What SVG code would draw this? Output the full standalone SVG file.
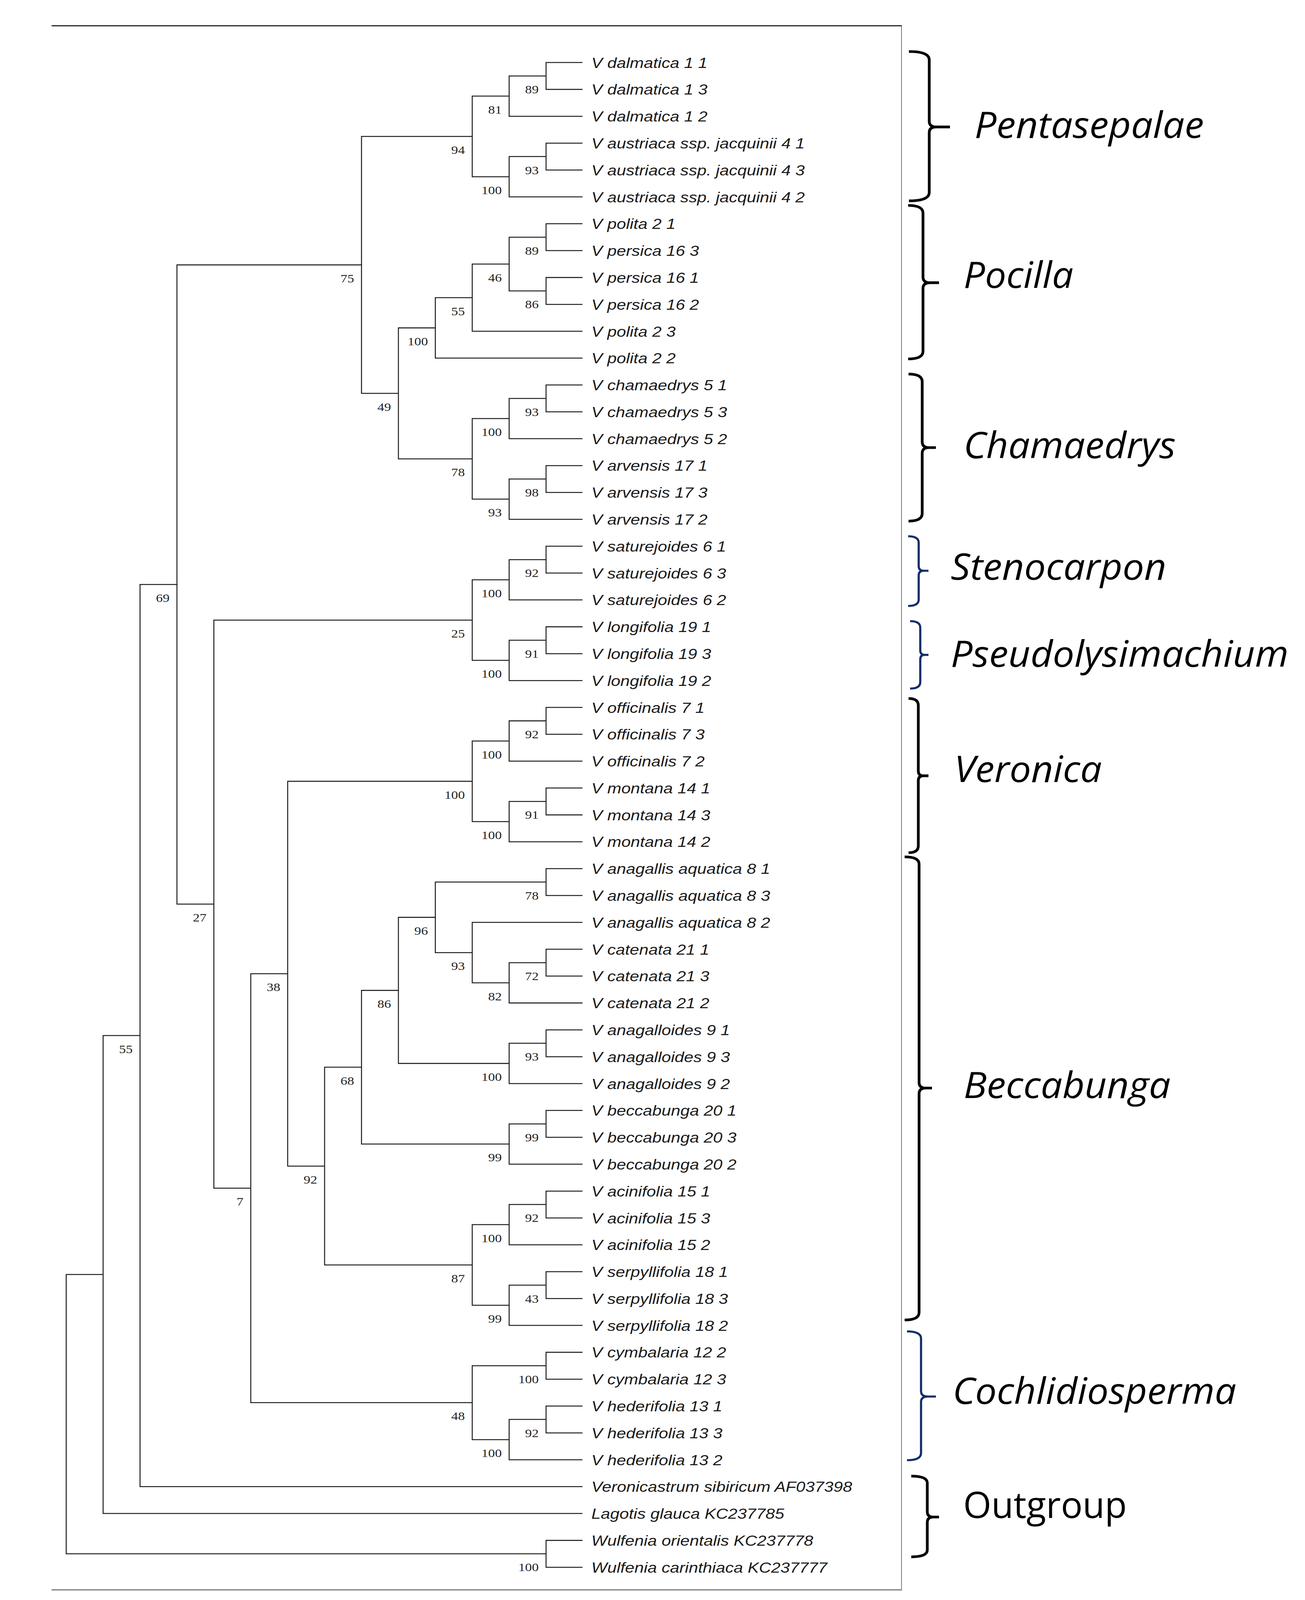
<svg xmlns="http://www.w3.org/2000/svg" width="3341" height="4222" viewBox="0 0 3341 4222">
<style>
.br{fill:none;stroke:#222;stroke-width:2.6;stroke-linecap:square}
.tip{font-family:"Liberation Sans",Arial,sans-serif;font-style:italic;font-size:38.5px;fill:#1a1a1a}
.bs{font-family:"Liberation Serif","Times New Roman",serif;font-size:31px;fill:#222;text-anchor:end}
.brace{fill:none;stroke-width:7;stroke-linejoin:round;stroke-linecap:butt}
.bk{stroke:#000}
.bl{stroke:#112e6a;stroke-width:5.5}
.clade{font-family:"Open Sans","Lato",sans-serif;font-size:96px;fill:#000}
.it{font-style:italic}
</style>
<rect width="3341" height="4222" fill="#fff"/>
<g id="diagram" transform="matrix(1,0,0,0.9702,0,0)">
<g id="frame">
<line x1="132" y1="68" x2="2309" y2="68" stroke="#000" stroke-width="2.6"/>
<line x1="2308" y1="68" x2="2308" y2="4195" stroke="#555" stroke-width="1.6"/>
<line x1="132" y1="4195" x2="2309" y2="4195" stroke="#888" stroke-width="3.5"/>
</g>
<g id="connectors" class="br">
<path d="M1490 165 H1398 V235.9 H1490 M1398 200.45 H1303.5 V306.8 H1490 M1490 377.7 H1398 V448.6 H1490 M1398 413.15 H1303.5 V519.5 H1490 M1303.5 253.6 H1209 V466.3 H1303.5"/>
<path d="M1490 590.4 H1398 V661.3 H1490 M1490 732.2 H1398 V803.1 H1490 M1398 625.85 H1303.5 V767.65 H1398 M1303.5 696.75 H1209 V874 H1490 M1209 785.4 H1114.5 V944.9 H1490"/>
<path d="M1490 1015.8 H1398 V1086.7 H1490 M1398 1051.25 H1303.5 V1157.6 H1490 M1490 1228.5 H1398 V1299.4 H1490 M1398 1263.95 H1303.5 V1370.3 H1490 M1303.5 1104.4 H1209 V1317.1 H1303.5"/>
<path d="M1114.5 865.15 H1020 V1210.75 H1209 M1209 359.95 H925.5 V1037.95 H1020"/>
<path d="M1490 1441.2 H1398 V1512.1 H1490 M1398 1476.65 H1303.5 V1583 H1490 M1490 1653.9 H1398 V1724.8 H1490 M1398 1689.35 H1303.5 V1795.7 H1490 M1303.5 1529.8 H1209 V1742.5 H1303.5"/>
<path d="M1490 1866.6 H1398 V1937.5 H1490 M1398 1902.05 H1303.5 V2008.4 H1490 M1490 2079.3 H1398 V2150.2 H1490 M1398 2114.75 H1303.5 V2221.1 H1490 M1303.5 1955.2 H1209 V2167.9 H1303.5"/>
<path d="M1490 2292 H1398 V2362.9 H1490 M1490 2504.7 H1398 V2575.6 H1490 M1398 2540.15 H1303.5 V2646.5 H1490 M1490 2433.8 H1209 V2593.3 H1303.5 M1398 2327.45 H1114.5 V2513.55 H1209"/>
<path d="M1490 2717.4 H1398 V2788.3 H1490 M1398 2752.85 H1303.5 V2859.2 H1490 M1114.5 2420.5 H1020 V2806 H1303.5"/>
<path d="M1490 2930.1 H1398 V3001 H1490 M1398 2965.55 H1303.5 V3071.9 H1490 M1020 2613.25 H925.5 V3018.7 H1303.5"/>
<path d="M1490 3142.8 H1398 V3213.7 H1490 M1398 3178.25 H1303.5 V3284.6 H1490 M1490 3355.5 H1398 V3426.4 H1490 M1398 3390.95 H1303.5 V3497.3 H1490 M1303.5 3231.4 H1209 V3444.1 H1303.5"/>
<path d="M925.5 2815.95 H831 V3337.75 H1209 M1209 2061.55 H736.5 V3076.85 H831"/>
<path d="M1490 3568.2 H1398 V3639.1 H1490 M1490 3710 H1398 V3780.9 H1490 M1398 3745.45 H1303.5 V3851.8 H1490 M1398 3603.65 H1209 V3798.6 H1303.5"/>
<path d="M736.5 2569.2 H642 V3701.1 H1209 M1209 1636.15 H547.5 V3135.15 H642 M925.5 698.95 H453 V2385.65 H547.5"/>
<path d="M453 1542.3 H358.5 V3922.7 H1490 M358.5 2732.5 H264 V3993.6 H1490 M1490 4064.5 H1398 V4135.4 H1490 M264 3363.05 H169.5 V4099.95 H1398"/>
</g>
<g id="tips" class="tip" transform="matrix(1.12,0,0,1,1514,0)">
<g id="t0"><text x="0" y="179">V dalmatica 1 1</text></g>
<g id="t1"><text x="0" y="249.9">V dalmatica 1 3</text></g>
<g id="t2"><text x="0" y="320.8">V dalmatica 1 2</text></g>
<g id="t3"><text x="0" y="391.7">V austriaca ssp. jacquinii 4 1</text></g>
<g id="t4"><text x="0" y="462.6">V austriaca ssp. jacquinii 4 3</text></g>
<g id="t5"><text x="0" y="533.5">V austriaca ssp. jacquinii 4 2</text></g>
<g id="t6"><text x="0" y="604.4">V polita 2 1</text></g>
<g id="t7"><text x="0" y="675.3">V persica 16 3</text></g>
<g id="t8"><text x="0" y="746.2">V persica 16 1</text></g>
<g id="t9"><text x="0" y="817.1">V persica 16 2</text></g>
<g id="t10"><text x="0" y="888">V polita 2 3</text></g>
<g id="t11"><text x="0" y="958.9">V polita 2 2</text></g>
<g id="t12"><text x="0" y="1029.8">V chamaedrys 5 1</text></g>
<g id="t13"><text x="0" y="1100.7">V chamaedrys 5 3</text></g>
<g id="t14"><text x="0" y="1171.6">V chamaedrys 5 2</text></g>
<g id="t15"><text x="0" y="1242.5">V arvensis 17 1</text></g>
<g id="t16"><text x="0" y="1313.4">V arvensis 17 3</text></g>
<g id="t17"><text x="0" y="1384.3">V arvensis 17 2</text></g>
<g id="t18"><text x="0" y="1455.2">V saturejoides 6 1</text></g>
<g id="t19"><text x="0" y="1526.1">V saturejoides 6 3</text></g>
<g id="t20"><text x="0" y="1597">V saturejoides 6 2</text></g>
<g id="t21"><text x="0" y="1667.9">V longifolia 19 1</text></g>
<g id="t22"><text x="0" y="1738.8">V longifolia 19 3</text></g>
<g id="t23"><text x="0" y="1809.7">V longifolia 19 2</text></g>
<g id="t24"><text x="0" y="1880.6">V officinalis 7 1</text></g>
<g id="t25"><text x="0" y="1951.5">V officinalis 7 3</text></g>
<g id="t26"><text x="0" y="2022.4">V officinalis 7 2</text></g>
<g id="t27"><text x="0" y="2093.3">V montana 14 1</text></g>
<g id="t28"><text x="0" y="2164.2">V montana 14 3</text></g>
<g id="t29"><text x="0" y="2235.1">V montana 14 2</text></g>
<g id="t30"><text x="0" y="2306">V anagallis aquatica 8 1</text></g>
<g id="t31"><text x="0" y="2376.9">V anagallis aquatica 8 3</text></g>
<g id="t32"><text x="0" y="2447.8">V anagallis aquatica 8 2</text></g>
<g id="t33"><text x="0" y="2518.7">V catenata 21 1</text></g>
<g id="t34"><text x="0" y="2589.6">V catenata 21 3</text></g>
<g id="t35"><text x="0" y="2660.5">V catenata 21 2</text></g>
<g id="t36"><text x="0" y="2731.4">V anagalloides 9 1</text></g>
<g id="t37"><text x="0" y="2802.3">V anagalloides 9 3</text></g>
<g id="t38"><text x="0" y="2873.2">V anagalloides 9 2</text></g>
<g id="t39"><text x="0" y="2944.1">V beccabunga 20 1</text></g>
<g id="t40"><text x="0" y="3015">V beccabunga 20 3</text></g>
<g id="t41"><text x="0" y="3085.9">V beccabunga 20 2</text></g>
<g id="t42"><text x="0" y="3156.8">V acinifolia 15 1</text></g>
<g id="t43"><text x="0" y="3227.7">V acinifolia 15 3</text></g>
<g id="t44"><text x="0" y="3298.6">V acinifolia 15 2</text></g>
<g id="t45"><text x="0" y="3369.5">V serpyllifolia 18 1</text></g>
<g id="t46"><text x="0" y="3440.4">V serpyllifolia 18 3</text></g>
<g id="t47"><text x="0" y="3511.3">V serpyllifolia 18 2</text></g>
<g id="t48"><text x="0" y="3582.2">V cymbalaria 12 2</text></g>
<g id="t49"><text x="0" y="3653.1">V cymbalaria 12 3</text></g>
<g id="t50"><text x="0" y="3724">V hederifolia 13 1</text></g>
<g id="t51"><text x="0" y="3794.9">V hederifolia 13 3</text></g>
<g id="t52"><text x="0" y="3865.8">V hederifolia 13 2</text></g>
<g id="t53"><text x="0" y="3936.7">Veronicastrum sibiricum AF037398</text></g>
<g id="t54"><text x="0" y="4007.6">Lagotis glauca KC237785</text></g>
<g id="t55"><text x="0" y="4078.5">Wulfenia orientalis KC237778</text></g>
<g id="t56"><text x="0" y="4149.4">Wulfenia carinthiaca KC237777</text></g>
</g>
<g id="bootstrap" class="bs">
<g transform="matrix(1.12,0,0,1,1379,0)">
<text x="0" y="246.5">89</text><text x="0" y="459.2">93</text><text x="0" y="671.9">89</text><text x="0" y="813.7">86</text>
<text x="0" y="1097.3">93</text><text x="0" y="1310">98</text><text x="0" y="1522.7">92</text><text x="0" y="1735.4">91</text>
<text x="0" y="1948.1">92</text><text x="0" y="2160.8">91</text><text x="0" y="2373.5">78</text><text x="0" y="2586.2">72</text>
<text x="0" y="2798.9">93</text><text x="0" y="3011.6">99</text><text x="0" y="3224.3">92</text><text x="0" y="3437">43</text>
<text x="0" y="3649.7">100</text><text x="0" y="3791.5">92</text><text x="0" y="4146">100</text>
</g>
<g transform="matrix(1.12,0,0,1,1284.5,0)">
<text x="0" y="299.6">81</text><text x="0" y="512.3">100</text><text x="0" y="742.8">46</text><text x="0" y="1150.4">100</text>
<text x="0" y="1363.1">93</text><text x="0" y="1575.8">100</text><text x="0" y="1788.5">100</text><text x="0" y="2001.2">100</text>
<text x="0" y="2213.9">100</text><text x="0" y="2639.3">82</text><text x="0" y="2852">100</text><text x="0" y="3064.7">99</text>
<text x="0" y="3277.4">100</text><text x="0" y="3490.1">99</text><text x="0" y="3844.6">100</text>
</g>
<g transform="matrix(1.12,0,0,1,1190,0)">
<text x="0" y="406">94</text><text x="0" y="831.4">55</text><text x="0" y="1256.8">78</text><text x="0" y="1682.2">25</text>
<text x="0" y="2107.6">100</text><text x="0" y="2559.6">93</text><text x="0" y="3383.8">87</text><text x="0" y="3747.1">48</text>
</g>
<g transform="matrix(1.12,0,0,1,1095.5,0)"><text x="0" y="911.2">100</text><text x="0" y="2466.5">96</text></g>
<g transform="matrix(1.12,0,0,1,1001,0)"><text x="0" y="1084">49</text><text x="0" y="2659.3">86</text></g>
<g transform="matrix(1.12,0,0,1,906.5,0)"><text x="0" y="745">75</text><text x="0" y="2862">68</text></g>
<g transform="matrix(1.12,0,0,1,812,0)"><text x="0" y="3122.9">92</text></g>
<g transform="matrix(1.12,0,0,1,717.5,0)"><text x="0" y="2615.2">38</text></g>
<g transform="matrix(1.12,0,0,1,623,0)"><text x="0" y="3181.2">7</text></g>
<g transform="matrix(1.12,0,0,1,528.5,0)"><text x="0" y="2431.7">27</text></g>
<g transform="matrix(1.12,0,0,1,434,0)"><text x="0" y="1588.3">69</text></g>
<g transform="matrix(1.12,0,0,1,339.5,0)"><text x="0" y="2778.5">55</text></g>
</g>
<g id="clade-pentasepalae">
<path class="brace bk" d="M2327 136 Q2379 136 2379 158 V320 Q2379 335 2397 335 H2432 M2397 335 Q2379 335 2379 350 V508 Q2379 530 2327 530"/>
<text class="clade it" x="2495" y="364" textLength="587" lengthAdjust="spacingAndGlyphs">Pentasepalae</text>
</g>
<g id="clade-pocilla">
<path class="brace bk" d="M2325 542 Q2363 542 2363 562 V731 Q2363 746 2381 746 H2404 M2381 746 Q2363 746 2363 761 V927 Q2363 947 2325 947"/>
<text class="clade it" x="2467" y="760" textLength="281" lengthAdjust="spacingAndGlyphs">Pocilla</text>
</g>
<g id="clade-chamaedrys">
<path class="brace bk" d="M2326 987 Q2361 987 2361 1007 V1166 Q2361 1181 2378 1181 H2396 M2378 1181 Q2361 1181 2361 1196 V1355 Q2361 1375 2326 1375"/>
<text class="clade it" x="2467" y="1209" textLength="543" lengthAdjust="spacingAndGlyphs">Chamaedrys</text>
</g>
<g id="clade-stenocarpon">
<path class="brace bl" d="M2325 1415 Q2352 1415 2352 1432 V1494 Q2352 1506 2365 1506 H2377 M2365 1506 Q2352 1506 2352 1518 V1582 Q2352 1599 2325 1599"/>
<text class="clade it" x="2434" y="1530" textLength="552" lengthAdjust="spacingAndGlyphs">Stenocarpon</text>
</g>
<g id="clade-pseudolysimachium">
<path class="brace bl" d="M2330 1639 Q2356 1639 2356 1656 V1716 Q2356 1728 2367 1728 H2377 M2367 1728 Q2356 1728 2356 1740 V1800 Q2356 1817 2330 1817"/>
<text class="clade it" x="2434" y="1759" textLength="865" lengthAdjust="spacingAndGlyphs">Pseudolysimachium</text>
</g>
<g id="clade-veronica">
<path class="brace bk" d="M2326 1843 Q2351 1843 2351 1861 V2034 Q2351 2047 2364 2047 H2377 M2364 2047 Q2351 2047 2351 2060 V2232 Q2351 2250 2326 2250"/>
<text class="clade it" x="2443" y="2063" textLength="378" lengthAdjust="spacingAndGlyphs">Veronica</text>
</g>
<g id="clade-beccabunga">
<path class="brace bk" d="M2316 2261 Q2353 2261 2353 2280 V2856 Q2353 2871 2370 2871 H2386 M2370 2871 Q2353 2871 2353 2886 V3463 Q2353 3483 2316 3483"/>
<text class="clade it" x="2467" y="2897" textLength="530" lengthAdjust="spacingAndGlyphs">Beccabunga</text>
</g>
<g id="clade-cochlidiosperma">
<path class="brace bl" d="M2322 3513 Q2358 3513 2358 3532 V3671 Q2358 3685 2376 3685 H2396 M2376 3685 Q2358 3685 2358 3699 V3834 Q2358 3853 2322 3853"/>
<text class="clade it" x="2439" y="3704" textLength="726" lengthAdjust="spacingAndGlyphs">Cochlidiosperma</text>
</g>
<g id="clade-outgroup">
<path class="brace bk" d="M2333 3895 Q2374 3895 2374 3913 V3989 Q2374 4003 2390 4003 H2404 M2390 4003 Q2374 4003 2374 4017 V4090 Q2374 4108 2333 4108"/>
<text class="clade" x="2466" y="4005" textLength="419" lengthAdjust="spacingAndGlyphs">Outgroup</text>
</g>
</g>
</svg>
